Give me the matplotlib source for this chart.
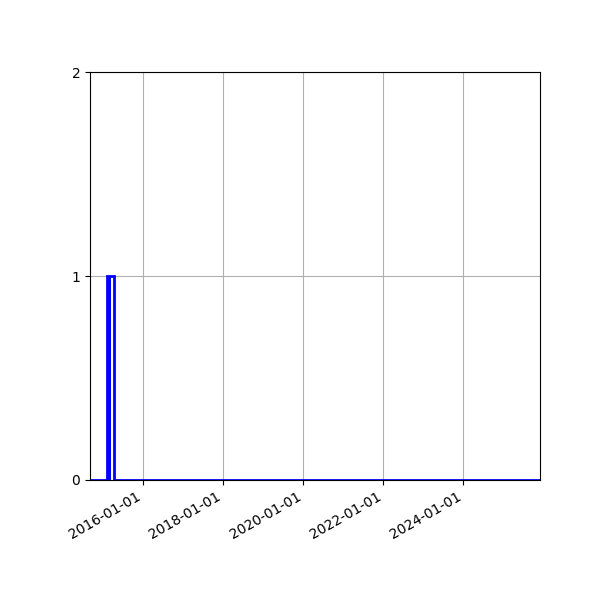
import numpy as np
import matplotlib
matplotlib.use('Agg')
import matplotlib.pyplot as plt
import matplotlib.dates as mdates

# histogram bins (dates) and counts
bin_edges = ['2014-09-01', '2015-02-03', '2015-03-11', '2015-04-10', '2025-12-01']
counts = [0, 1, 1, 0]
# densely packed part of the histogram that renders as a solid block
dense_edges = ['2015-02-03', '2015-03-11']
dense_counts = [1]

edges = mdates.datestr2num(bin_edges)
d_edges = mdates.datestr2num(dense_edges)

fig, ax = plt.subplots(figsize=(6, 6), dpi=100)
ax.stairs(counts, edges, color='blue', linewidth=2, zorder=2)
ax.stairs(dense_counts, d_edges, color='blue', fill=True, zorder=2)

ax.set_xlim(edges[0], edges[-1])
ax.set_ylim(0, 2)
ax.set_yticks([0, 1, 2])
ax.xaxis.set_major_locator(mdates.YearLocator(2))
ax.xaxis.set_major_formatter(mdates.DateFormatter('%Y-%m-%d'))
ax.grid(True)
ax.set_axisbelow(True)
fig.autofmt_xdate()
fig.subplots_adjust(left=0.15, right=0.9, top=0.88, bottom=0.2)
fig.savefig('out.png')
